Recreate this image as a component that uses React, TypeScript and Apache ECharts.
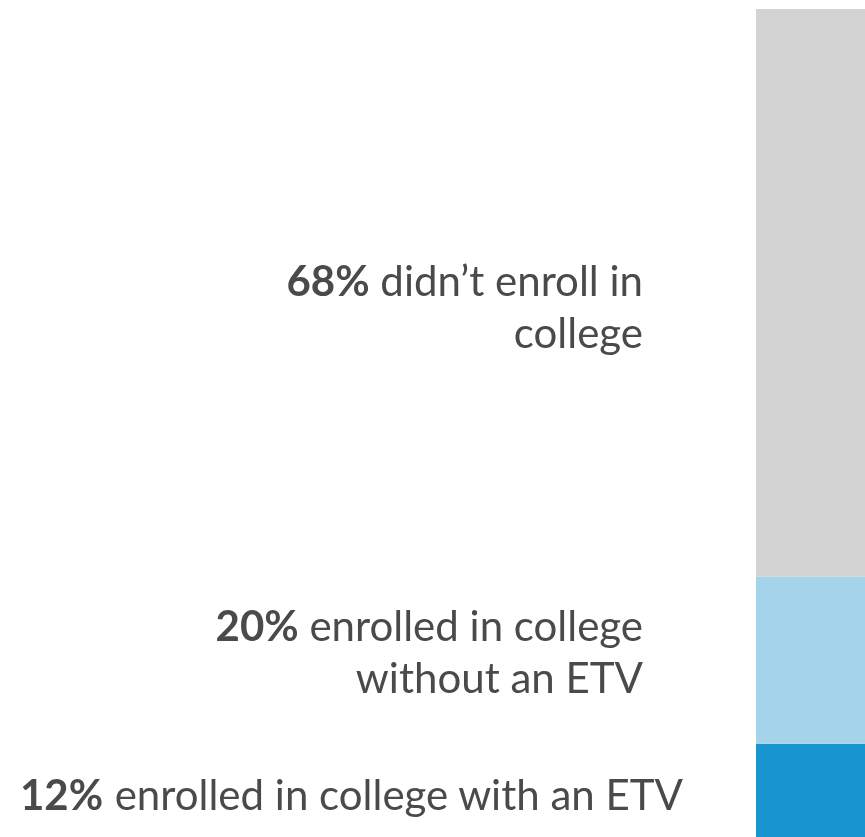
import React, { useEffect, useRef } from "react";
import * as echarts from "echarts";

const categories = ["All"];
const seriesNames = ["With ETV", "Without ETV", "Not enrolled"];
const values = [12, 20, 68];
const colors = ["#1795d1", "#a4d4ea", "#d3d3d3"];
const labelTexts = [
  "{b|12%} enrolled in college with an ETV",
  "{b|20%} enrolled in college\nwithout an ETV",
  "{b|68%} didn\u2019t enroll in\ncollege",
];
const labelDistances = [73, 113, 113];
const labelOffsets = [[0, 0], [0, -9], [0, 13]];

export default function App() {
  const ref = useRef<HTMLDivElement>(null);
  useEffect(() => {
    if (!ref.current) return;
    const chart = echarts.init(ref.current, null, { renderer: "svg" });
    const textColor = "#4a4a4a";
    chart.setOption({
      animation: false,
      grid: { left: 748, right: 0, top: 1, bottom: 4 },
      xAxis: { type: "category", data: categories, show: false },
      yAxis: { type: "value", min: 0, max: 100, show: false },
      series: values.map((v, i) => ({
        name: seriesNames[i],
        type: "bar",
        stack: "total",
        barWidth: "100%",
        data: [v],
        itemStyle: { color: colors[i] },
        label: {
          show: true,
          position: "left",
          distance: labelDistances[i],
          offset: labelOffsets[i],
          formatter: labelTexts[i],
          color: textColor,
          fontFamily: "Lato",
          fontSize: 42,
          lineHeight: 52,
          rich: {
            b: {
              fontWeight: "bold",
              fontFamily: "Lato",
              fontSize: 42,
              lineHeight: 52,
              color: textColor,
            },
          },
        },
      })),
    });
    return () => chart.dispose();
  }, []);
  return (
    <div
      ref={ref}
      style={{ position: "fixed", left: 8, top: 8, width: 900, height: 840 }}
    />
  );
}
